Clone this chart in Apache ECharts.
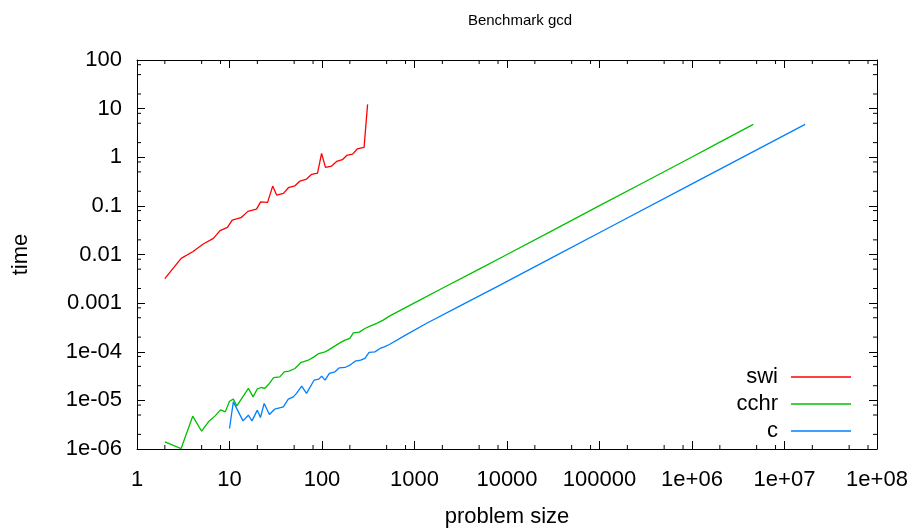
<!DOCTYPE html>
<html lang="en">
<head>
<meta charset="UTF-8">
<title>Benchmark gcd</title>
<script src="https://cdn.jsdelivr.net/npm/echarts@6/dist/echarts.min.js"></script>
<style>html,body{margin:0;padding:0;background:#fff}</style>
</head>
<body>
<div id="main" style="width:915px;height:529px"></div>
<script type="text/javascript">
// tick labels, gnuplot style
var xTickLabels = ['1', '10', '100', '1000', '10000', '100000', '1e+06', '1e+07', '1e+08'];
var yTickLabels = ['1e-06', '1e-05', '1e-04', '0.001', '0.01', '0.1', '1', '10', '100'];
var minorSteps = [2, 5, 8];

// series: problem size / time
var swiSize = [2, 3, 4, 5.2, 6.7, 7.9, 9.5, 10.7, 13.3, 15.8, 19.6, 21.7, 25.8, 29.3, 32.3, 38.3, 43.3, 51, 57.8, 68.2, 77.4, 89.5, 99, 109, 127, 144, 166, 185, 214, 240, 285, 311];
var swiTime = [0.0032, 0.0083, 0.0114, 0.0164, 0.0214, 0.031, 0.036, 0.051, 0.057, 0.077, 0.086, 0.121, 0.118, 0.255, 0.167, 0.181, 0.236, 0.259, 0.324, 0.356, 0.445, 0.473, 1.2, 0.62, 0.66, 0.82, 0.89, 1.09, 1.16, 1.48, 1.6, 12.2];

var cchrSize = [2, 3, 4, 5, 6, 7, 8, 9, 10, 11, 12, 16, 18, 20, 22, 24, 27, 30, 35, 39, 44, 51, 59, 71, 82, 92, 108, 117, 133, 156, 177, 200, 218, 253, 291, 330, 390, 459, 535, 1000, 2000, 5000, 10000, 31700, 100000, 300000, 1000000, 2000000, 4600000];
var cchrTime = [1.4e-6, 1.02e-6, 4.73e-6, 2.32e-6, 3.73e-6, 4.8e-6, 6.38e-6, 5.8e-6, 9.6e-6, 1.06e-5, 7.7e-6, 1.76e-5, 1.18e-5, 1.73e-5, 1.84e-5, 1.76e-5, 2.23e-5, 2.93e-5, 3.05e-5, 3.86e-5, 3.99e-5, 4.53e-5, 6.0e-5, 6.7e-5, 7.85e-5, 9.2e-5, 9.95e-5, 1.08e-4, 1.26e-4, 1.52e-4, 1.73e-4, 1.88e-4, 2.45e-4, 2.53e-4, 3.01e-4, 3.36e-4, 3.82e-4, 4.47e-4, 5.4e-4, 1.01e-3, 2.02e-3, 5.0e-3, 0.0100, 0.0318, 0.101, 0.302, 1.01, 2.04, 4.75];

var cSize = [10, 11, 14, 16, 17.5, 20, 21.6, 23.7, 27, 30.5, 32.4, 38.2, 43.2, 49, 53, 60.3, 68, 82, 92.5, 99, 108, 120, 138, 154, 177, 200, 228, 262, 291, 323, 373, 424, 471, 535, 800, 1355, 3000, 8400, 30000, 114600, 1000000, 5000000, 16700000];
var cTime = [2.64e-6, 9.3e-6, 3.79e-6, 4.96e-6, 3.79e-6, 6.29e-6, 4.45e-6, 8.63e-6, 5.13e-6, 6.5e-6, 6.8e-6, 7.35e-6, 1.06e-5, 1.18e-5, 1.39e-5, 1.96e-5, 1.39e-5, 2.6e-5, 2.73e-5, 3.15e-5, 2.6e-5, 3.58e-5, 3.86e-5, 4.67e-5, 4.75e-5, 5.3e-5, 6.4e-5, 6.7e-5, 7.3e-5, 9.7e-5, 9.95e-5, 1.17e-4, 1.26e-4, 1.41e-4, 2.2e-4, 3.85e-4, 8.5e-4, 2.34e-3, 8.4e-3, 0.0323, 0.283, 1.42, 4.75];

var FONT = 'Liberation Sans';
var LABEL_SIZE = 22;
var X_MIN = 1, X_MAX = 1e8, Y_MIN = 1e-6, Y_MAX = 100;

function pairs(xs, ys) {
    return xs.map(function (x, i) { return [x, ys[i]]; });
}

// minor tick values (2, 5, 8 of each decade)
var xMinor = [], yMinor = [];
for (var e = 0; e < 8; e++) {
    minorSteps.forEach(function (m) { xMinor.push(m * Math.pow(10, e)); });
}
for (var e2 = -6; e2 < 2; e2++) {
    minorSteps.forEach(function (m) { yMinor.push(m * Math.pow(10, e2)); });
}

function tickLine(x1, y1, x2, y2) {
    return {type: 'line', shape: {x1: x1, y1: y1, x2: x2, y2: y2}, style: {stroke: '#000', lineWidth: 1}};
}
function xMinorItem(params, api) {
    var v = api.value(0);
    var b = api.coord([v, Y_MIN]);
    var t = api.coord([v, Y_MAX]);
    return {type: 'group', children: [
        tickLine(b[0], b[1], b[0], b[1] - 4),
        tickLine(t[0], t[1], t[0], t[1] + 4)
    ]};
}
function yMinorItem(params, api) {
    var v = api.value(1);
    var l = api.coord([X_MIN, v]);
    var r = api.coord([X_MAX, v]);
    return {type: 'group', children: [
        tickLine(l[0], l[1], l[0] + 4, l[1]),
        tickLine(r[0], r[1], r[0] - 4, r[1])
    ]};
}

function logAxis(pos, min, max, labels, offsetExp, show) {
    return {
        type: 'log', logBase: 10, position: pos, min: min, max: max, splitNumber: 8,
        axisLine: {show: true, lineStyle: {color: '#000', width: 1}},
        axisTick: {show: true, inside: true, length: 8, lineStyle: {color: '#000'}},
        splitLine: {show: false},
        axisLabel: {
            show: show, color: '#000', fontFamily: FONT, fontSize: LABEL_SIZE,
            margin: (pos === 'bottom') ? 20 : 15,
            formatter: function (v) {
                return labels[Math.round(Math.log10(v)) + offsetExp];
            }
        }
    };
}

var myChart = echarts.init(document.getElementById('main'));

var xMain = logAxis('bottom', X_MIN, X_MAX, xTickLabels, 0, true);
xMain.name = 'problem size';
xMain.nameLocation = 'middle';
xMain.nameGap = 57;
xMain.nameTextStyle = {color: '#000', fontFamily: FONT, fontSize: LABEL_SIZE};

var yMain = logAxis('left', Y_MIN, Y_MAX, yTickLabels, 6, true);
yMain.name = 'time';
yMain.nameLocation = 'middle';
yMain.nameGap = 105;
yMain.nameTextStyle = {color: '#000', fontFamily: FONT, fontSize: LABEL_SIZE};

var legendBase = {
    orient: 'vertical', align: 'right', right: 59, icon: 'rect',
    itemWidth: 60, itemHeight: 1.5, selectedMode: false,
    textStyle: {color: '#000', fontFamily: FONT, fontSize: LABEL_SIZE, padding: [0, 8, 0, 0]}
};

var option = {
    backgroundColor: '#fff',
    animation: false,
    title: {
        text: 'Benchmark gcd', left: 515, top: 8, textAlign: 'center',
        textStyle: {color: '#000', fontFamily: FONT, fontSize: 15, fontWeight: 'normal'}
    },
    grid: {left: 137, right: 38, top: 60, bottom: 80, containLabel: false, outerBoundsMode: 'none'},
    legend: [
        Object.assign({}, legendBase, {data: ['swi'], top: 361}),
        Object.assign({}, legendBase, {data: ['cchr'], top: 388}),
        Object.assign({}, legendBase, {data: ['c'], top: 415})
    ],
    xAxis: [xMain, logAxis('top', X_MIN, X_MAX, xTickLabels, 0, false)],
    yAxis: [yMain, logAxis('right', Y_MIN, Y_MAX, yTickLabels, 6, false)],
    series: [
        {name: 'swi', type: 'line', data: pairs(swiSize, swiTime), showSymbol: false,
            color: '#ff0000', lineStyle: {width: 1.3, color: '#ff0000'}},
        {name: 'cchr', type: 'line', data: pairs(cchrSize, cchrTime), showSymbol: false,
            color: '#00c000', lineStyle: {width: 1.3, color: '#00c000'}},
        {name: 'c', type: 'line', data: pairs(cSize, cTime), showSymbol: false,
            color: '#0080ff', lineStyle: {width: 1.3, color: '#0080ff'}},
        {type: 'custom', renderItem: xMinorItem, silent: true, clip: false,
            encode: {x: 0, y: 1}, data: xMinor.map(function (v) { return [v, 1]; })},
        {type: 'custom', renderItem: yMinorItem, silent: true, clip: false,
            encode: {x: 0, y: 1}, data: yMinor.map(function (v) { return [10, v]; })}
    ]
};
myChart.setOption(option);
</script>
</body>
</html>
